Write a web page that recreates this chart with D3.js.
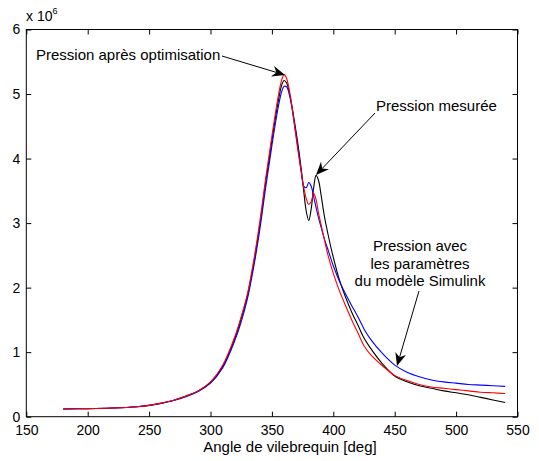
<!DOCTYPE html>
<html>
<head>
<meta charset="utf-8">
<script src="https://cdn.jsdelivr.net/npm/d3@7"></script>
<style>
  body { margin: 0; background: #fff; }
  svg text { font-family: "Liberation Sans", Arial, Helvetica, sans-serif; }
</style>
</head>
<body>
<svg id="chart"></svg>
<script>
// angle de vilebrequin [deg]
const angles = [180, 200, 220, 240, 250, 260, 270, 280, 290, 300, 310, 320, 325, 330, 335, 340, 345, 350, 355, 358,
  360, 362, 365, 368, 371, 374, 376, 378, 380, 382, 384, 386, 388, 390, 393, 396, 400, 405, 410, 415,
  420, 425, 430, 440, 450, 460, 470, 480, 490, 500, 510, 520, 530, 540];

// pressions en 10^6
const pMesuree = [0.12, 0.125, 0.135, 0.155, 0.175, 0.21, 0.255, 0.32, 0.40, 0.53, 0.78, 1.22, 1.52, 1.87, 2.35, 2.95, 3.64, 4.28, 4.87, 5.14,
  5.21, 5.17, 4.95, 4.62, 4.25, 3.82, 3.48, 3.18, 3.04, 3.22, 3.55, 3.74, 3.66, 3.44, 3.08, 2.80, 2.47, 2.12, 1.85, 1.62,
  1.42, 1.22, 1.07, 0.82, 0.63, 0.54, 0.48, 0.44, 0.40, 0.37, 0.34, 0.30, 0.26, 0.22];

const pSimulink = [0.12, 0.125, 0.135, 0.155, 0.175, 0.205, 0.25, 0.31, 0.39, 0.52, 0.76, 1.19, 1.47, 1.82, 2.30, 2.88, 3.56, 4.20, 4.78, 5.04,
  5.12, 5.11, 4.92, 4.58, 4.20, 3.78, 3.57, 3.55, 3.63, 3.57, 3.41, 3.24, 3.08, 2.94, 2.74, 2.57, 2.34, 2.10, 1.90, 1.72,
  1.55, 1.36, 1.21, 0.98, 0.80, 0.69, 0.62, 0.57, 0.54, 0.52, 0.50, 0.49, 0.48, 0.47];

const pOptim = [0.12, 0.125, 0.135, 0.155, 0.175, 0.21, 0.255, 0.32, 0.40, 0.54, 0.80, 1.25, 1.55, 1.90, 2.40, 3.00, 3.70, 4.35, 4.95, 5.22,
  5.30, 5.24, 4.97, 4.57, 4.15, 3.78, 3.55, 3.38, 3.29, 3.33, 3.46, 3.36, 3.15, 2.98, 2.72, 2.48, 2.22, 1.95, 1.72, 1.50,
  1.30, 1.10, 0.97, 0.79, 0.64, 0.56, 0.50, 0.46, 0.44, 0.42, 0.40, 0.38, 0.37, 0.36];

const xTicks = [150, 200, 250, 300, 350, 400, 450, 500, 550];
const yTicks = [0, 1, 2, 3, 4, 5, 6];

const width = 539, height = 461;
const margin = { top: 29.5, right: 21.5, bottom: 44.3, left: 26.3 };

const svg = d3.select("#chart").attr("width", width).attr("height", height);

const x = d3.scaleLinear().domain([150, 550]).range([margin.left, width - margin.right]);
const y = d3.scaleLinear().domain([0, 6]).range([height - margin.bottom, margin.top]);

const tickLen = 5;

svg.append("g")
    .attr("transform", `translate(0,${height - margin.bottom})`)
    .call(d3.axisBottom(x).tickValues(xTicks).tickFormat(d3.format("d")).tickSizeInner(-tickLen).tickSizeOuter(0).tickPadding(8))
    .call(g => g.select(".domain").remove())
    .call(g => g.selectAll("text").attr("font-size", 14).attr("font-family", null));

svg.append("g")
    .attr("transform", `translate(0,${margin.top})`)
    .call(d3.axisTop(x).tickValues(xTicks).tickSizeInner(-tickLen).tickSizeOuter(0).tickFormat(""))
    .call(g => g.select(".domain").remove());

svg.append("g")
    .attr("transform", `translate(${margin.left},0)`)
    .call(d3.axisLeft(y).tickValues(yTicks).tickFormat(d3.format("d")).tickSizeInner(-tickLen).tickSizeOuter(0).tickPadding(6))
    .call(g => g.select(".domain").remove())
    .call(g => g.selectAll("text").attr("font-size", 14).attr("font-family", null));

svg.append("g")
    .attr("transform", `translate(${width - margin.right},0)`)
    .call(d3.axisRight(y).tickValues(yTicks).tickSizeInner(-tickLen).tickSizeOuter(0).tickFormat(""))
    .call(g => g.select(".domain").remove());

svg.append("rect")
    .attr("x", margin.left)
    .attr("y", margin.top)
    .attr("width", width - margin.left - margin.right)
    .attr("height", height - margin.top - margin.bottom)
    .attr("fill", "none")
    .attr("stroke", "#000");

// multiplier
const mult = svg.append("text")
    .attr("x", 26)
    .attr("y", 21)
    .attr("font-size", 14)
    .text("x 10");
mult.append("tspan").attr("font-size", 9).attr("dy", -7).text("6");

// x label
svg.append("text")
    .attr("x", 290)
    .attr("y", 452)
    .attr("text-anchor", "middle")
    .attr("font-size", 15)
    .text("Angle de vilebrequin [deg]");

const line = d3.line()
    .x((d, i) => x(angles[i]))
    .y(d => y(d))
    .curve(d3.curveCatmullRom.alpha(0.5));

const series = [
  { values: pMesuree, color: "#000000" },
  { values: pSimulink, color: "#0000ff" },
  { values: pOptim, color: "#ff0000" }
];

svg.append("g")
    .selectAll("path")
    .data(series)
    .join("path")
    .attr("fill", "none")
    .attr("stroke", d => d.color)
    .attr("stroke-width", 1.1)
    .attr("d", d => line(d.values));

// annotations
const drawArrow = (x1, y1, x2, y2) => {
  const a = Math.atan2(y2 - y1, x2 - x1);
  const len = 13, half = 5.5, notch = 9;
  const pt = (d, w) => [x2 - d * Math.cos(a) - w * Math.sin(a), y2 - d * Math.sin(a) + w * Math.cos(a)];
  svg.append("line")
      .attr("x1", x1).attr("y1", y1)
      .attr("x2", pt(notch, 0)[0]).attr("y2", pt(notch, 0)[1])
      .attr("stroke", "#000").attr("stroke-width", 1);
  svg.append("path")
      .attr("d", "M" + [[x2, y2], pt(len, half), pt(notch, 0), pt(len, -half)].join("L") + "Z")
      .attr("fill", "#000");
};

svg.append("text").attr("x", 36).attr("y", 60).attr("font-size", 15).text("Pression après optimisation");
drawArrow(222, 56, 285, 75);

svg.append("text").attr("x", 376).attr("y", 111).attr("font-size", 15).text("Pression mesurée");
drawArrow(375, 113, 316, 175);

const simText = ["Pression avec", "les paramètres", "du modèle Simulink"];
svg.append("g")
    .selectAll("text")
    .data(simText)
    .join("text")
    .attr("x", 420)
    .attr("y", (d, i) => 251 + i * 17.5)
    .attr("text-anchor", "middle")
    .attr("font-size", 15)
    .text(d => d);
drawArrow(419, 291, 397, 366);
</script>
</body>
</html>
